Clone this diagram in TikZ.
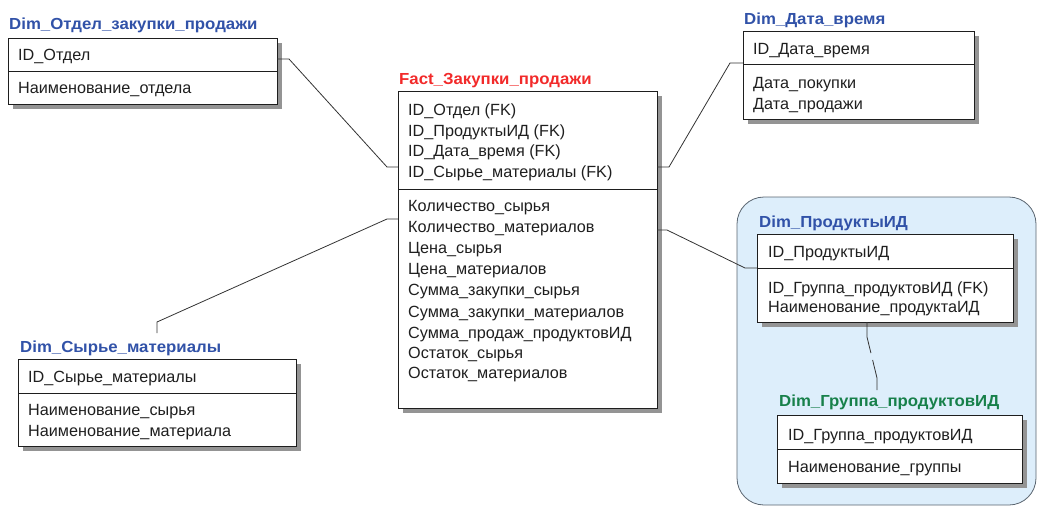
\documentclass[tikz,border=0pt]{standalone}
\usepackage{fontspec}
\setmainfont{Liberation Sans}
\newfontfamily\titlefont[FakeStretch=1.05]{Liberation Sans}
\usetikzlibrary{shadows}

\definecolor{titleblue}{HTML}{3152A8}
\definecolor{titlered}{HTML}{F22A2A}
\definecolor{titlegreen}{HTML}{17804A}
\definecolor{areablue}{HTML}{DDEEFB}
\definecolor{areaedge}{HTML}{5A6570}
\definecolor{edgecol}{HTML}{1E1E1E}

\tikzset{
  entity/.style={draw=edgecol, line width=0.9pt, fill=white, anchor=north west,
    inner sep=0pt, outer sep=0pt,
    drop shadow={shadow xshift=5pt, shadow yshift=-5pt, fill=black!42, opacity=1}},
  divider/.style={draw=edgecol, line width=0.9pt},
  field/.style={anchor=base west, inner sep=0pt, text=black!88,
    font=\fontsize{16.2}{20}\selectfont},
  etitle/.style={anchor=base west, inner sep=0pt,
    font=\titlefont\fontsize{16}{20}\selectfont\bfseries},
  conn/.style={draw=black!80, line width=0.8pt},
  area/.style={draw=areaedge, line width=0.8pt, fill=areablue, rounded corners=27pt}
}

\begin{document}
\begin{tikzpicture}[x=1pt, y=-1pt]
\useasboundingbox (0,0) rectangle (1037,506);

% product group area
\path[area] (737,197) rectangle (1036,505);

% ---------- Dim_Отдел_закупки_продажи ----------
\node[etitle, text=titleblue] (otdT) at (9,29) {Dim\_Отдел\_закупки\_продажи};
\node[entity, minimum width=269pt, minimum height=66pt] (otd) at (8,38) {};
\draw[divider] (8,71) -- (277,71);
\node[field] (otd1) at (18,60) {ID\_Отдел};
\node[field] (otd2) at (18,93) {Наименование\_отдела};

% ---------- Fact_Закупки_продажи ----------
\node[etitle, text=titlered] (factT) at (399,84) {Fact\_Закупки\_продажи};
\node[entity, minimum width=259pt, minimum height=317pt] (fact) at (398,91) {};
\draw[divider] (398,189) -- (657,189);
\node[field] (f1) at (408,115) {ID\_Отдел (FK)};
\node[field] (f2) at (408,136) {ID\_ПродуктыИД (FK)};
\node[field] (f3) at (408,156) {ID\_Дата\_время (FK)};
\node[field] (f4) at (408,177) {ID\_Сырье\_материалы (FK)};
\node[field] (f5) at (408,211) {Количество\_сырья};
\node[field] (f6) at (408,232) {Количество\_материалов};
\node[field] (f7) at (408,253) {Цена\_сырья};
\node[field] (f8) at (408,274) {Цена\_материалов};
\node[field] (f9) at (408,295) {Сумма\_закупки\_сырья};
\node[field] (f10) at (408,317) {Сумма\_закупки\_материалов};
\node[field] (f11) at (408,338) {Сумма\_продаж\_продуктовИД};
\node[field] (f12) at (408,358) {Остаток\_сырья};
\node[field] (f13) at (408,378) {Остаток\_материалов};

% ---------- Dim_Дата_время ----------
\node[etitle, text=titleblue] (dateT) at (744,24) {Dim\_Дата\_время};
\node[entity, minimum width=231pt, minimum height=88pt] (date) at (743,31) {};
\draw[divider] (743,64) -- (974,64);
\node[field] (d1) at (753,54) {ID\_Дата\_время};
\node[field] (d2) at (753,88) {Дата\_покупки};
\node[field] (d3) at (753,109) {Дата\_продажи};

% ---------- Dim_ПродуктыИД ----------
\node[etitle, text=titleblue] (prodT) at (759,227) {Dim\_ПродуктыИД};
\node[entity, minimum width=256pt, minimum height=88pt] (prod) at (757,234) {};
\draw[divider] (757,268) -- (1013,268);
\node[field] (p1) at (768,257) {ID\_ПродуктыИД};
\node[field] (p2) at (768,293) {ID\_Группа\_продуктовИД (FK)};
\node[field] (p3) at (768,312) {Наименование\_продуктаИД};

% ---------- Dim_Группа_продуктовИД ----------
\node[etitle, text=titlegreen] (grpT) at (779,406) {Dim\_Группа\_продуктовИД};
\node[entity, minimum width=245pt, minimum height=68pt] (grp) at (777,415) {};
\draw[divider] (777,449) -- (1022,449);
\node[field] (g1) at (788,440) {ID\_Группа\_продуктовИД};
\node[field] (g2) at (788,472) {Наименование\_группы};

% ---------- Dim_Сырье_материалы ----------
\node[etitle, text=titleblue] (rawT) at (20,352) {Dim\_Сырье\_материалы};
\node[entity, minimum width=278pt, minimum height=87pt] (raw) at (18,359) {};
\draw[divider] (18,393) -- (296,393);
\node[field] (r1) at (28,382) {ID\_Сырье\_материалы};
\node[field] (r2) at (28,415) {Наименование\_сырья};
\node[field] (r3) at (28,436) {Наименование\_материала};

% ---------- relationships ----------
\draw[conn] ([yshift=-21pt]otd.north east) -- ++(12,0)
  -- ([xshift=-11pt,yshift=-76pt]fact.north west) -- ([yshift=-76pt]fact.north west);
\draw[conn] ([yshift=-76pt]fact.north east) -- ++(12,0)
  -- ([xshift=-13pt,yshift=-32pt]date.north west) -- ([yshift=-32pt]date.north west);
\draw[conn] ([yshift=-139pt]fact.north east) -- ++(10,0)
  -- ([xshift=-12pt]prod.west |- 0,268) -- (prod.west |- 0,268);
\draw[conn] ([xshift=139pt,yshift=26pt]raw.north west) -- ++(0,-11)
  -- ([xshift=-11pt,yshift=-128pt]fact.north west) -- ([yshift=-128pt]fact.north west);
\coordinate (pg1) at (867,337);
\coordinate (pg2) at (877,378);
\draw[conn, dash pattern=on 31.5pt off 7.2pt on 200pt]
  ([xshift=110pt]prod.south west) -- (pg1) -- (pg2) -- ([xshift=100pt,yshift=25pt]grp.north west);
\end{tikzpicture}
\end{document}
